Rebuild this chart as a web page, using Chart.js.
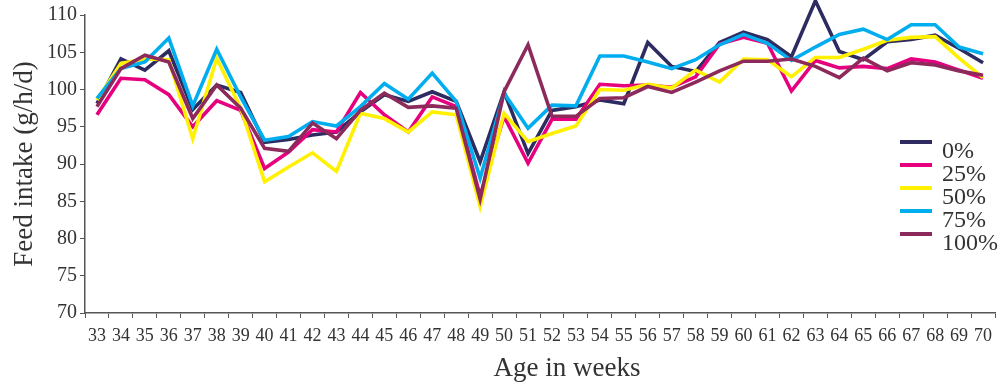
<!DOCTYPE html>
<html><head><meta charset="utf-8">
<script src="https://cdn.jsdelivr.net/npm/chart.js@4.4.1/dist/chart.umd.min.js"></script>
<style>html,body{margin:0;padding:0;background:#fff;overflow:hidden}#wrap{width:1005px;height:388px}</style>
</head><body><div id="wrap"><canvas id="c" width="1005" height="388"></canvas></div>
<script>
const weeks = ['33','34','35','36','37','38','39','40','41','42','43','44','45','46','47','48','49','50','51','52','53','54','55','56','57','58','59','60','61','62','63','64','65','66','67','68','69','70'];
const seriesNames = ['0%','25%','50%','75%','100%'];
const yTicks = [70,75,80,85,90,95,100,105,110];
const s0 = [98.1,104.1,102.6,105.2,97.3,100.6,99.6,92.9,93.3,93.9,94.3,97.0,99.3,98.4,99.7,98.4,90.3,99.7,91.4,97.2,97.7,98.6,98.1,106.3,103.1,102.4,106.3,107.7,106.7,104.4,111.9,105.1,104.0,106.4,106.7,107.3,105.5,103.6];
const s25 = [96.6,101.5,101.3,99.3,95.0,98.5,97.2,89.4,91.6,94.6,94.3,99.6,96.6,94.3,99.0,97.7,85.7,96.4,90.1,96.0,96.0,100.7,100.5,100.6,100.3,101.7,106.1,107.0,106.2,99.8,103.9,102.9,103.1,102.8,104.1,103.7,102.6,101.5];
const s50 = [98.6,103.5,104.1,104.0,93.4,104.2,97.5,87.6,89.6,91.5,89.0,96.8,96.1,94.3,97.0,96.6,84.3,96.8,93.0,94.1,95.1,100.0,99.9,100.7,100.2,102.6,101.0,104.1,104.0,101.7,104.3,104.3,105.4,106.6,107.0,107.1,104.2,101.6];
const s75 = [98.8,102.8,103.7,106.9,97.8,105.4,99.0,93.2,93.7,95.7,95.1,97.7,100.8,98.7,102.2,98.4,88.1,99.5,94.8,97.9,97.8,104.5,104.5,103.7,102.8,104.0,106.0,107.4,106.2,103.9,105.7,107.4,108.1,106.7,108.7,108.7,105.7,104.8];
const s100 = [97.7,102.8,104.6,103.7,96.1,100.6,97.5,92.1,91.7,95.5,93.4,97.2,99.5,97.6,97.8,97.5,85.3,99.7,106.0,96.4,96.4,98.8,98.9,100.4,99.6,101.0,102.5,103.8,103.8,104.1,103.1,101.6,104.2,102.5,103.6,103.3,102.5,101.9];
const colors = ['#2d2b5f','#e6007e','#fff100','#00adee','#8c2a5c'];
const allSeries = [s0,s25,s50,s75,s100];
const yTitle = 'Feed intake (g/h/d)';
const xTitle = 'Age in weeks';
const FONT = '"Liberation Serif", "Times New Roman", serif';

const extras = {
  id: 'extras',
  afterDraw(chart) {
    const ctx = chart.ctx;
    ctx.save();
    ctx.fillStyle = '#333';
    ctx.font = '27px ' + FONT;
    ctx.textAlign = 'center';
    ctx.textBaseline = 'alphabetic';
    ctx.fillText(xTitle, 567, 376);
    chart.data.datasets.forEach((ds, i) => {
      const y = 142 + i * 23;
      ctx.strokeStyle = ds.borderColor;
      ctx.lineWidth = 4;
      ctx.beginPath(); ctx.moveTo(900, y); ctx.lineTo(932, y); ctx.stroke();
      ctx.font = '24px ' + FONT;
      ctx.textAlign = 'left';
      ctx.fillStyle = '#333';
      ctx.fillText(ds.label, 942, y + 16);
    });
    ctx.restore();
  }
};

new Chart(document.getElementById('c'), {
  type: 'line',
  data: {
    labels: weeks,
    datasets: allSeries.map((d, i) => ({
      label: seriesNames[i], data: d, borderColor: colors[i], backgroundColor: colors[i],
      borderWidth: 3.6, pointRadius: 0, tension: 0, fill: false, clip: false, order: 5 - i
    }))
  },
  options: {
    responsive: false, animation: false, devicePixelRatio: 1,
    layout: { padding: { top: 15, right: 10, left: 0, bottom: 0 } },
    plugins: { legend: { display: false }, tooltip: { enabled: false } },
    scales: {
      x: {
        type: 'category', offset: true,
        grid: { display: true, offset: true, drawOnChartArea: false, drawTicks: true, tickLength: 5, color: '#555', lineWidth: 1 },
        border: { display: true, color: '#555', width: 1.5 },
        ticks: { autoSkip: false, maxRotation: 0, minRotation: 0, color: '#333', padding: 7, font: { family: FONT, size: 18 } },
        afterFit(s) { s.height = 75; }
      },
      y: {
        min: 70, max: 110,
        afterBuildTicks(s) { s.ticks = yTicks.map(v => ({ value: v })); },
        grid: { display: true, drawOnChartArea: false, drawTicks: true, tickLength: 5, color: '#555', lineWidth: 1 },
        border: { display: true, color: '#555', width: 1.5 },
        ticks: { color: '#333', padding: 3, font: { family: FONT, size: 20 } },
        title: { display: true, text: yTitle, color: '#333', font: { family: FONT, size: 27 }, padding: { top: 9, bottom: 0 } },
        afterFit(s) { s.width = 85; }
      }
    }
  },
  plugins: [extras]
});
</script>
</body></html>
